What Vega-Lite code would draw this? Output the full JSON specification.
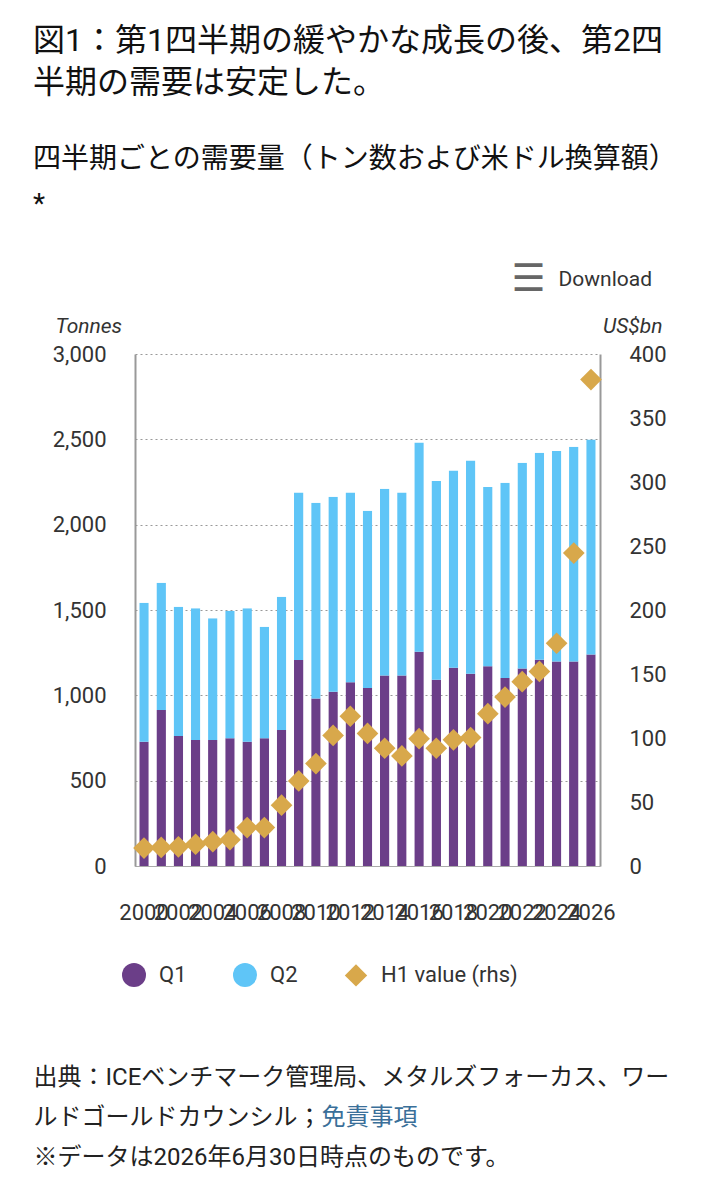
{
  "$schema": "https://vega.github.io/schema/vega-lite/v6.json",
  "autosize": {"type": "none"},
  "width": 465,
  "height": 512,
  "padding": {"left": 135, "top": 354, "right": 120, "bottom": 322},
  "background": "white",
  "config": {
    "view": {"stroke": null},
    "font": "Roboto, Noto Sans CJK JP",
    "axis": {"labelFont": "Roboto", "labelFontSize": 22, "labelColor": "#333", "titleFont": "Roboto, Noto Sans CJK JP", "titleFontWeight": "normal"}
  },
  "title": {
    "text": ["図1：第1四半期の緩やかな成長の後、第2四", "半期の需要は安定した。"],
    "subtitle": ["四半期ごとの需要量（トン数および米ドル換算額）", "*"],
    "anchor": "start",
    "frame": "group",
    "dx": -102,
    "offset": 40,
    "font": "Roboto, Noto Sans CJK JP",
    "fontSize": 32,
    "fontWeight": "normal",
    "lineHeight": 42,
    "color": "#111",
    "subtitleFont": "Roboto, Noto Sans CJK JP",
    "subtitleFontSize": 28,
    "subtitleLineHeight": 45,
    "subtitleColor": "#111",
    "subtitlePadding": 46
  },
  "datasets": {
    "bars": [
      {"year": 2000, "quarter": "Q1", "tonnes": 728}, {"year": 2000, "quarter": "Q2", "tonnes": 815},
      {"year": 2001, "quarter": "Q1", "tonnes": 914}, {"year": 2001, "quarter": "Q2", "tonnes": 746},
      {"year": 2002, "quarter": "Q1", "tonnes": 762}, {"year": 2002, "quarter": "Q2", "tonnes": 757},
      {"year": 2003, "quarter": "Q1", "tonnes": 738}, {"year": 2003, "quarter": "Q2", "tonnes": 772},
      {"year": 2004, "quarter": "Q1", "tonnes": 738}, {"year": 2004, "quarter": "Q2", "tonnes": 713},
      {"year": 2005, "quarter": "Q1", "tonnes": 748}, {"year": 2005, "quarter": "Q2", "tonnes": 748},
      {"year": 2006, "quarter": "Q1", "tonnes": 728}, {"year": 2006, "quarter": "Q2", "tonnes": 782},
      {"year": 2007, "quarter": "Q1", "tonnes": 748}, {"year": 2007, "quarter": "Q2", "tonnes": 654},
      {"year": 2008, "quarter": "Q1", "tonnes": 797}, {"year": 2008, "quarter": "Q2", "tonnes": 781},
      {"year": 2009, "quarter": "Q1", "tonnes": 1207}, {"year": 2009, "quarter": "Q2", "tonnes": 982},
      {"year": 2010, "quarter": "Q1", "tonnes": 982}, {"year": 2010, "quarter": "Q2", "tonnes": 1147},
      {"year": 2011, "quarter": "Q1", "tonnes": 1021}, {"year": 2011, "quarter": "Q2", "tonnes": 1143},
      {"year": 2012, "quarter": "Q1", "tonnes": 1076}, {"year": 2012, "quarter": "Q2", "tonnes": 1113},
      {"year": 2013, "quarter": "Q1", "tonnes": 1043}, {"year": 2013, "quarter": "Q2", "tonnes": 1039},
      {"year": 2014, "quarter": "Q1", "tonnes": 1116}, {"year": 2014, "quarter": "Q2", "tonnes": 1095},
      {"year": 2015, "quarter": "Q1", "tonnes": 1116}, {"year": 2015, "quarter": "Q2", "tonnes": 1073},
      {"year": 2016, "quarter": "Q1", "tonnes": 1256}, {"year": 2016, "quarter": "Q2", "tonnes": 1226},
      {"year": 2017, "quarter": "Q1", "tonnes": 1091}, {"year": 2017, "quarter": "Q2", "tonnes": 1165},
      {"year": 2018, "quarter": "Q1", "tonnes": 1161}, {"year": 2018, "quarter": "Q2", "tonnes": 1157},
      {"year": 2019, "quarter": "Q1", "tonnes": 1126}, {"year": 2019, "quarter": "Q2", "tonnes": 1250},
      {"year": 2020, "quarter": "Q1", "tonnes": 1171}, {"year": 2020, "quarter": "Q2", "tonnes": 1050},
      {"year": 2021, "quarter": "Q1", "tonnes": 1101}, {"year": 2021, "quarter": "Q2", "tonnes": 1145},
      {"year": 2022, "quarter": "Q1", "tonnes": 1157}, {"year": 2022, "quarter": "Q2", "tonnes": 1206},
      {"year": 2023, "quarter": "Q1", "tonnes": 1208}, {"year": 2023, "quarter": "Q2", "tonnes": 1213},
      {"year": 2024, "quarter": "Q1", "tonnes": 1198}, {"year": 2024, "quarter": "Q2", "tonnes": 1233},
      {"year": 2025, "quarter": "Q1", "tonnes": 1198}, {"year": 2025, "quarter": "Q2", "tonnes": 1258},
      {"year": 2026, "quarter": "Q1", "tonnes": 1239}, {"year": 2026, "quarter": "Q2", "tonnes": 1260}
    ],
    "h1": [
      {"year": 2000, "value": 14}, {"year": 2001, "value": 14.5}, {"year": 2002, "value": 15},
      {"year": 2003, "value": 17}, {"year": 2004, "value": 19}, {"year": 2005, "value": 20.5},
      {"year": 2006, "value": 30}, {"year": 2007, "value": 30}, {"year": 2008, "value": 47.5},
      {"year": 2009, "value": 66.5}, {"year": 2010, "value": 80}, {"year": 2011, "value": 102},
      {"year": 2012, "value": 117}, {"year": 2013, "value": 103.6}, {"year": 2014, "value": 92},
      {"year": 2015, "value": 86}, {"year": 2016, "value": 99.5}, {"year": 2017, "value": 92},
      {"year": 2018, "value": 98.6}, {"year": 2019, "value": 100.3}, {"year": 2020, "value": 119},
      {"year": 2021, "value": 132}, {"year": 2022, "value": 144}, {"year": 2023, "value": 152},
      {"year": 2024, "value": 174}, {"year": 2025, "value": 244.5}, {"year": 2026, "value": 380}
    ]
  },
  "layer": [
    {
      "data": {"name": "bars"},
      "mark": {
        "type": "bar",
        "cornerRadiusTopLeft": {"expr": "datum.quarter === 'Q2' ? 5 : 0"},
        "cornerRadiusTopRight": {"expr": "datum.quarter === 'Q2' ? 5 : 0"}
      },
      "encoding": {
        "x": {
          "field": "year",
          "type": "ordinal",
          "scale": {"paddingInner": 0.45, "paddingOuter": 0.25},
          "axis": {
            "orient": "bottom",
            "labelExpr": "datum.value % 2 === 0 ? datum.label : ''",
            "labelAngle": 0,
            "labelOverlap": false,
            "labelPadding": 36,
            "labelBaseline": "top",
            "ticks": false,
            "domain": true,
            "domainColor": "#aaa",
            "domainWidth": 1,
            "grid": false,
            "title": ["出典：ICEベンチマーク管理局、メタルズフォーカス、ワー", "ルドゴールドカウンシル；", "※データは2026年6月30日時点のものです。"],
            "titleX": -102,
            "titleY": 199,
            "titleAlign": "left",
            "titleAnchor": null,
            "titleBaseline": "top",
            "titleFontSize": 24,
            "titleLineHeight": 40,
            "titleColor": "#222"
          }
        },
        "y": {
          "field": "tonnes",
          "type": "quantitative",
          "stack": "zero",
          "scale": {"domain": [0, 3000]},
          "axis": {
            "orient": "left",
            "values": [0, 500, 1000, 1500, 2000, 2500, 3000],
            "format": ",.0f",
            "title": "Tonnes",
            "titleAngle": 0,
            "titleX": -80,
            "titleY": -28,
            "titleAlign": "left",
            "titleBaseline": "middle",
            "titleFontStyle": "italic",
            "titleFontSize": 21,
            "titleColor": "#333",
            "grid": true,
            "gridDash": [2, 3],
            "gridColor": "#999",
            "gridWidth": 1,
            "ticks": false,
            "domain": true,
            "domainColor": "#999",
            "domainWidth": 2,
            "labelPadding": 29
          }
        },
        "color": {
          "field": "quarter",
          "type": "nominal",
          "scale": {"domain": ["Q1", "Q2", "H1 value (rhs)"], "range": ["#6B3E88", "#5FC5F7", "#D8A84B"]},
          "legend": {
            "orient": "none",
            "legendX": -13,
            "legendY": 609,
            "direction": "horizontal",
            "title": null,
            "padding": 0,
            "symbolType": "circle",
            "symbolSize": 576,
            "symbolStrokeWidth": 0,
            "labelFont": "Roboto",
            "labelFontSize": 22,
            "labelColor": "#333",
            "labelOffset": 13,
            "columnPadding": 46,
            "encode": {
              "symbols": {
                "update": {
                  "shape": {"signal": "datum.label === 'H1 value (rhs)' ? 'diamond' : 'circle'"},
                  "size": {"signal": "datum.label === 'H1 value (rhs)' ? 500 : 576"}
                }
              }
            }
          }
        },
        "order": {"field": "quarter", "sort": "ascending"}
      }
    },
    {
      "data": {"name": "h1"},
      "mark": {"type": "point", "shape": "diamond", "filled": true, "size": 470, "opacity": 1},
      "encoding": {
        "x": {
          "field": "year",
          "type": "ordinal",
          "axis": {
            "orient": "top",
            "labels": false,
            "ticks": false,
            "domain": false,
            "grid": false,
            "title": "Download",
            "titleX": 423,
            "titleY": -75,
            "titleAlign": "left",
            "titleAnchor": null,
            "titleBaseline": "middle",
            "titleFontSize": 21,
            "titleColor": "#333"
          }
        },
        "y": {
          "field": "value",
          "type": "quantitative",
          "scale": {"domain": [0, 400]},
          "axis": {
            "orient": "right",
            "values": [0, 50, 100, 150, 200, 250, 300, 350, 400],
            "title": "US$bn",
            "titleAngle": 0,
            "titleX": 62,
            "titleY": -28,
            "titleAlign": "right",
            "titleBaseline": "middle",
            "titleFontStyle": "italic",
            "titleFontSize": 21,
            "titleColor": "#333",
            "grid": false,
            "ticks": false,
            "domain": true,
            "domainColor": "#999",
            "domainWidth": 2,
            "labelPadding": 29
          }
        },
        "color": {"datum": "H1 value (rhs)", "type": "nominal"}
      }
    },
    {
      "data": {"name": "h1"},
      "mark": {"type": "point", "opacity": 0},
      "encoding": {
        "x": {
          "field": "year",
          "type": "ordinal",
          "axis": {
            "orient": "bottom",
            "labels": false,
            "ticks": false,
            "domain": false,
            "grid": false,
            "title": "免責事項",
            "titleX": 186,
            "titleY": 239,
            "titleAlign": "left",
            "titleAnchor": null,
            "titleBaseline": "top",
            "titleFontSize": 24,
            "titleColor": "#3A6F99"
          }
        }
      }
    },
    {
      "data": {"name": "h1"},
      "mark": {"type": "point", "opacity": 0},
      "encoding": {
        "x": {
          "field": "year",
          "type": "ordinal",
          "axis": {
            "orient": "top",
            "labels": false,
            "ticks": false,
            "domain": false,
            "grid": false,
            "title": "☰",
            "titleFont": "DejaVu Sans",
            "titleFontWeight": "bold",
            "titleX": 393,
            "titleY": -75,
            "titleAlign": "center",
            "titleAnchor": null,
            "titleBaseline": "middle",
            "titleFontSize": 38,
            "titleColor": "#666"
          }
        }
      }
    }
  ],
  "resolve": {"scale": {"y": "independent"}, "axis": {"x": "independent"}}
}
